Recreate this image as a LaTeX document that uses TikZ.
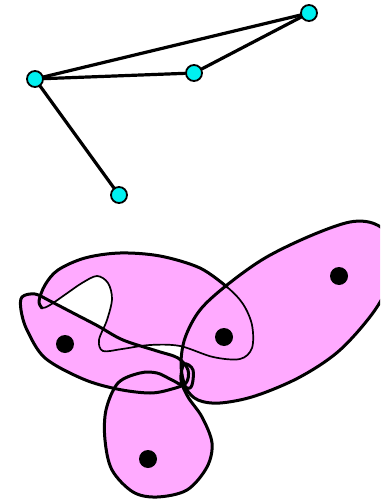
\documentclass[tikz,border=0pt]{standalone}
\usepackage{xcolor}
\usepackage{tikz}
\usetikzlibrary{backgrounds}
\definecolor{vertexcyan}{RGB}{0,240,240}
\definecolor{blobpink}{RGB}{255,170,255}
\tikzset{
	vertex/.style={draw, circle, fill=vertexcyan, line width=1.8pt, minimum size=16pt, inner sep=0pt},
	link/.style={line width=3.2pt},
	member/.style={circle, fill=black, minimum size=18pt, inner sep=0pt},
	blob/.style={fill=blobpink},
	rim/.style={line width=3pt},
	thinrim/.style={line width=1.7pt}
}

\begin{document}
\begin{tikzpicture}[x=1pt, y=-1pt, line join=round, line cap=round]
	\useasboundingbox (0,0) rectangle (380,502);
	\clip (0,0) rectangle (380,502);
	\node[vertex] (left) at (35,79) {};
	\node[vertex] (mid) at (194,73) {};
	\node[vertex] (far) at (309,13) {};
	\node[vertex] (low) at (119,195) {};
	\draw[link] (left) -- (far);
	\draw[link] (left) -- (mid);
	\draw[link] (mid) -- (far);
	\draw[link] (left) -- (low);
	\fill[blob] plot[smooth cycle, tension=0.55] coordinates {(227,287) (200,268) (160,256) (120,253) (85,258) (58,270) (45,285) (39,301) (42,308) (50,305) (66,294) (82,283) (97,276) (108,283) (112,299) (107,320) (99,340) (103,351) (122,349) (150,345) (180,346) (213,357) (240,359) (252,348) (252,325) (243,304)};
	\fill[blob] plot[smooth cycle, tension=0.55] coordinates {(22,297) (35,294) (50,301) (75,314) (98,326) (123,340) (157,351) (178,358) (188,370) (186,383) (172,389) (150,393) (117,389) (83,379) (45,358) (27,330) (21,310)};
	\fill[blob] plot[smooth cycle, tension=0.55] coordinates {(186,388) (181,365) (185,338) (200,310) (227,285) (265,258) (310,236) (350,222) (375,224) (392,240) (392,275) (375,310) (340,350) (300,377) (255,396) (220,403) (198,400)};
	\fill[blob] plot[smooth cycle, tension=0.55] coordinates {(140,373) (118,383) (106,410) (105,440) (112,470) (133,492) (157,497) (187,490) (207,467) (212,443) (202,417) (188,397) (181,380) (184,364) (193,370) (190,388) (172,380) (157,373)};
	\draw[thinrim] plot[smooth cycle, tension=0.55] coordinates {(227,287) (200,268) (160,256) (120,253) (85,258) (58,270) (45,285) (39,301) (42,308) (50,305) (66,294) (82,283) (97,276) (108,283) (112,299) (107,320) (99,340) (103,351) (122,349) (150,345) (180,346) (213,357) (240,359) (252,348) (252,325) (243,304)};
	\draw[rim] plot[smooth, tension=0.55] coordinates {(227,287) (200,268) (160,256) (120,253) (85,258) (58,270) (45,285) (39,301) (42,308)};
	\draw[rim] plot[smooth cycle, tension=0.55] coordinates {(22,297) (35,294) (50,301) (75,314) (98,326) (123,340) (157,351) (178,358) (188,370) (186,383) (172,389) (150,393) (117,389) (83,379) (45,358) (27,330) (21,310)};
	\draw[rim] plot[smooth cycle, tension=0.55] coordinates {(186,388) (181,365) (185,338) (200,310) (227,285) (265,258) (310,236) (350,222) (375,224) (392,240) (392,275) (375,310) (340,350) (300,377) (255,396) (220,403) (198,400)};
	\draw[rim] plot[smooth cycle, tension=0.55] coordinates {(140,373) (118,383) (106,410) (105,440) (112,470) (133,492) (157,497) (187,490) (207,467) (212,443) (202,417) (188,397) (181,380) (184,364) (193,370) (190,388) (172,380) (157,373)};
	\node[member] (west) at (65,344) {};
	\node[member] (centre) at (224,337) {};
	\node[member] (east) at (339,276) {};
	\node[member] (south) at (148,459) {};
\end{tikzpicture}
\end{document}
